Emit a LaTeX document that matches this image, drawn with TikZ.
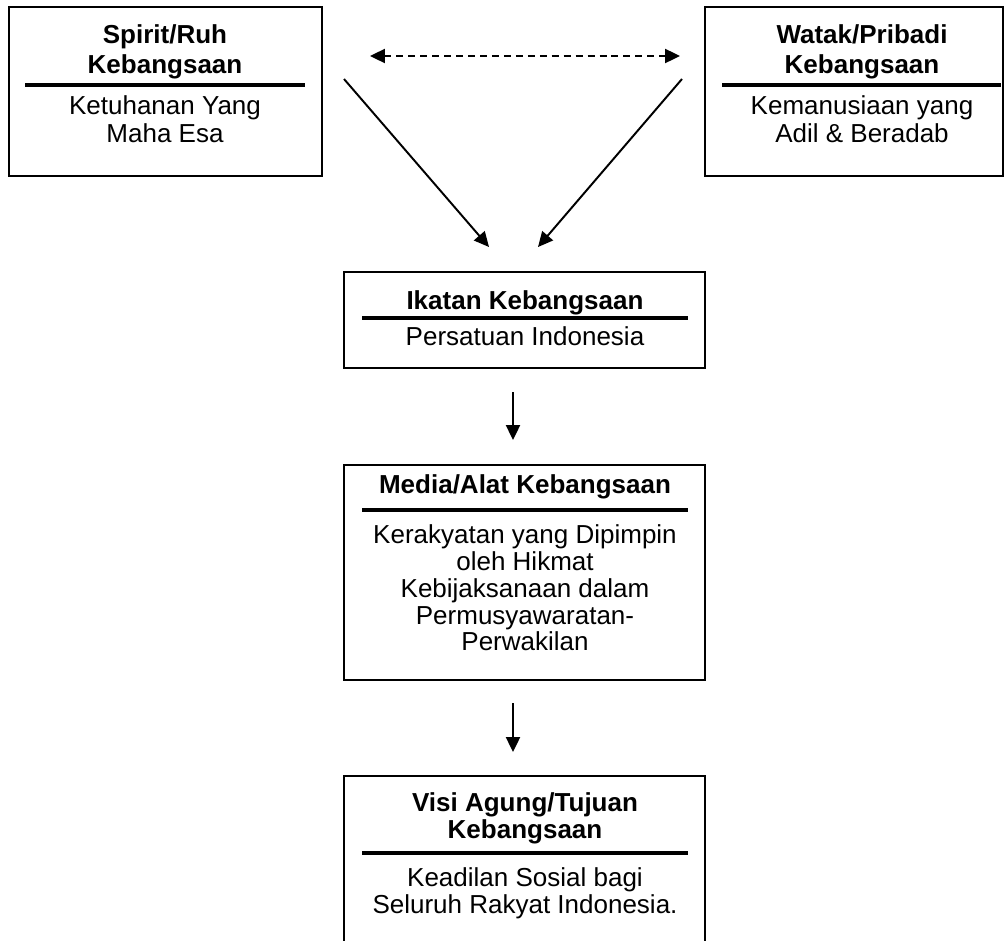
\documentclass[tikz,border=0pt]{standalone}
\usepackage{fontspec}
\setmainfont{Liberation Sans}
\usepackage{tikz}
\usetikzlibrary{arrows.meta,calc}

\tikzset{
  box/.style={draw,line width=1.1pt,inner sep=0pt},
  openbox/.style={inner sep=0pt},
  head/.style={align=center,inner sep=0pt,font=\fontsize{14.8}{15.2}\selectfont\bfseries},
  body/.style={align=center,inner sep=0pt,font=\fontsize{14.8}{15.2}\selectfont},
  sep/.style={line width=1.8pt},
  link/.style={line width=1.1pt,-{Triangle[length=8.5pt,width=8pt]}},
  both/.style={line width=1.1pt,dash pattern=on 4pt off 2.8pt,{Triangle[length=8.5pt,width=8pt]}-{Triangle[length=8.5pt,width=8pt]}}
}

\begin{document}
\begin{tikzpicture}[x=0.02cm,y=-0.02cm]
\useasboundingbox (0,0) rectangle (1006,940);
%box1
\node[box,minimum width=6.26cm,minimum height=3.38cm] (spirit) at (165.5,91.5) {};
\node[head,font=\fontsize{14.8}{17}\selectfont\bfseries] (spirith) at (165,52) {Spirit/Ruh\\Kebangsaan};
\node[body,font=\fontsize{14.8}{16}\selectfont] (spiritb) at (165,119) {Ketuhanan Yang\\Maha Esa};
\draw[sep] (25,85) -- (305,85);
%box2
\node[box,minimum width=5.96cm,minimum height=3.38cm] (watak) at (854,91.5) {};
\node[head,font=\fontsize{14.8}{17}\selectfont\bfseries] (watakh) at (862,52) {Watak/Pribadi\\Kebangsaan};
\node[body,font=\fontsize{14.8}{16}\selectfont] (watakb) at (862,119) {Kemanusiaan yang\\Adil \& Beradab};
\draw[sep] (722,85) -- (1001,85);
%box3
\node[box,minimum width=7.22cm,minimum height=1.92cm] (ikatan) at (524.5,320) {};
\node[head] (ikatanh) at (525,303) {Ikatan Kebangsaan};
\node[body] (ikatanb) at (525,336) {Persatuan Indonesia};
\draw[sep] (362,318) -- (688,318);
%box4
\node[box,minimum width=7.22cm,minimum height=4.30cm] (media) at (524.5,572.5) {};
\node[head] (mediah) at (525,487) {Media/Alat Kebangsaan};
\node[body] (mediab) at (525,588) {Kerakyatan yang Dipimpin\\oleh Hikmat\\Kebijaksanaan dalam\\Permusyawaratan-\\Perwakilan};
\draw[sep] (362,510) -- (688,510);
%box5 (open at the bottom)
\node[openbox,minimum width=7.22cm,minimum height=3.32cm] (visi) at (524.5,859) {};
\draw[line width=1.1pt] (visi.south west) -- (visi.north west) -- (visi.north east) -- (visi.south east);
\node[head] (visih) at (525,818) {Visi Agung/Tujuan\\Kebangsaan};
\node[body] (visib) at (525,893) {Keadilan Sosial bagi\\Seluruh Rakyat Indonesia.};
\draw[sep] (362,853) -- (688,853);
%arrows
\coordinate (d1) at (370,56);
\coordinate (d2) at (680,56);
\coordinate (l1) at (344,79);
\coordinate (l2) at (489,247);
\coordinate (r1) at (682,79);
\coordinate (r2) at (538,247);
\coordinate (m1) at (513,392);
\coordinate (m2) at (513,440);
\coordinate (n1) at (513,703);
\coordinate (n2) at (513,752);
\draw[both] (d1) -- (d2);
\draw[link] (l1) -- (l2);
\draw[link] (r1) -- (r2);
\draw[link] (m1) -- (m2);
\draw[link] (n1) -- (n2);
\end{tikzpicture}
\end{document}
